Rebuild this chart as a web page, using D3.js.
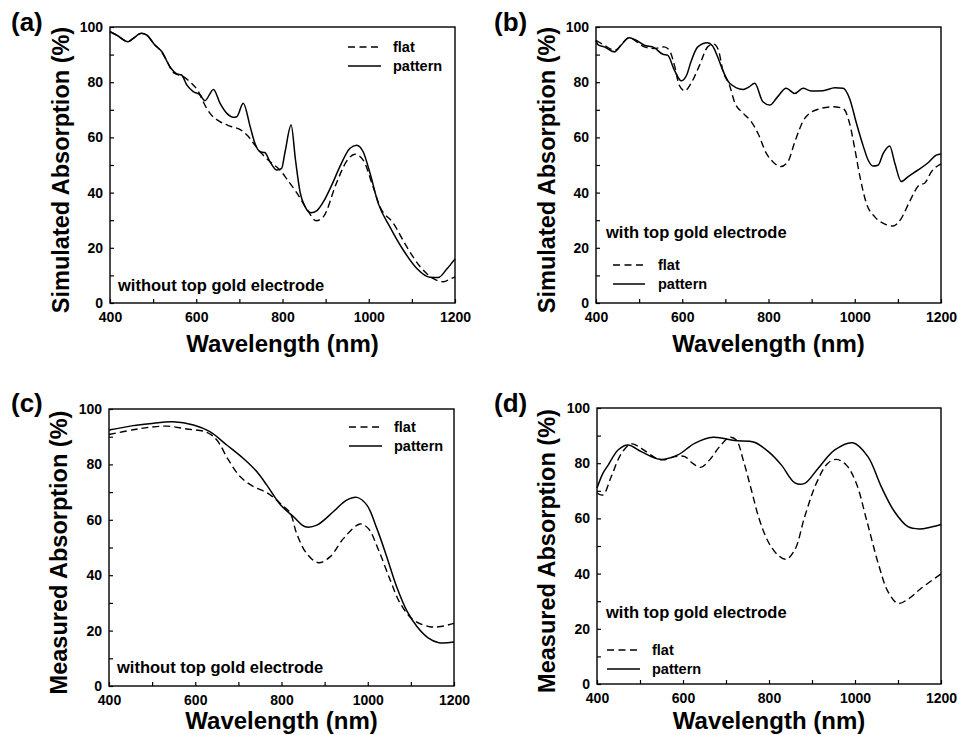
<!DOCTYPE html>
<html>
<head>
<meta charset="utf-8">
<script src="https://cdn.jsdelivr.net/npm/d3@7"></script>
<style>
  body { margin: 0; background: #fff; }
  text { font-family: "Liberation Sans", Arial, sans-serif; font-weight: bold; fill: #000; }
</style>
</head>
<body>
<div class="canvas"></div>
<script>
// tick values
const xTickVals = [400, 500, 600, 700, 800, 900, 1000, 1100, 1200];
const xLabelVals = [400, 600, 800, 1000, 1200];
const yTickVals = [0, 10, 20, 30, 40, 50, 60, 70, 80, 90, 100];
const yLabelVals = [0, 20, 40, 60, 80, 100];

// (a) simulated, without top gold electrode  [wavelength nm, absorption %]
const simFlatNoGold = [[400,98.3],[415,97.1],[442,94.7],[454,95.9],[473,97.7],[485,97.1],[504,93.5],[516,91.7],[531,88],[547,83.4],[570,82],[589,79.6],[605,76.6],[616,72.9],[632,68.7],[655,65.7],[678,64.1],[701,62.9],[721,60.3],[736,57.2],[755,53.6],[771,51.2],[794,48.2],[812,44.5],[834,39.7],[857,33.9],[878,29.8],[895,31.3],[925,43.4],[948,51.2],[968,53.9],[987,51.8],[1010,42.1],[1026,34.9],[1057,28.9],[1088,20.4],[1119,13.2],[1149,8.9],[1173,7.7],[1188,8.6],[1200,9.5]];
const simPatternNoGold = [[400,98.3],[415,97.1],[442,94.7],[454,95.9],[473,97.7],[485,97.1],[504,93.5],[520,91.1],[539,85.6],[555,83.0],[566,82.6],[578,79.0],[593,76.6],[609,75.4],[620,73.3],[640,77.4],[655,72.4],[671,68.7],[686,67.3],[694,67.5],[709,72.4],[725,63.9],[736,57.9],[748,54.8],[759,54.5],[771,51.2],[787,48.2],[798,48.8],[806,54.8],[820,64.5],[830,52],[841,40],[852,35],[866,32.7],[880,33.5],[895,36.7],[915,43],[933,49.4],[956,56],[972,57.2],[987,54.8],[1003,47],[1022,36.1],[1049,27.6],[1080,19.2],[1111,12.6],[1142,9.3],[1161,9.2],[1181,12.3],[1200,16]];

// (b) simulated, with top gold electrode
const simFlatGold = [[400,95.2],[419,93.4],[443,91.6],[477,96.1],[512,92.8],[535,92.2],[558,92.8],[570,91.6],[582,86.1],[593,78.9],[606,76.9],[620,79.5],[640,86.1],[659,92.8],[673,93.8],[684,91.6],[694,84.3],[710,78.7],[722,72.5],[741,68.8],[760,65.7],[776,61.3],[795,54.2],[810,51.2],[828,49.4],[845,51.2],[861,58.4],[884,66.9],[915,70.2],[950,71.1],[973,70.5],[988,65.1],[1000,56],[1012,45.8],[1027,36.1],[1046,31.3],[1070,28.6],[1089,27.9],[1108,30.7],[1127,36.7],[1150,42.8],[1162,43.4],[1178,47.6],[1200,50.4]];
const simPatternGold = [[400,95.2],[405,93.5],[419,92.8],[443,91.0],[458,93.4],[477,96.1],[493,95.2],[512,93.4],[535,92.5],[555,90.1],[566,89.8],[582,84.3],[598,80.5],[610,82.5],[620,87.3],[636,92.8],[658,94.3],[670,93.2],[682,89.2],[694,84.3],[710,79.6],[741,77.4],[755,78.3],[768,79.6],[787,72.9],[803,71.7],[820,74.5],[841,77.8],[861,75.9],[880,77.8],[899,76.8],[926,76.9],[954,78],[973,77.8],[988,74.1],[1004,65.1],[1019,57.2],[1031,51.8],[1042,49.6],[1054,49.9],[1066,54.2],[1081,56.9],[1093,50.6],[1108,44],[1124,45.8],[1147,48.2],[1170,50.8],[1189,53.6],[1200,54]];

// (c) measured, without top gold electrode
const measFlatNoGold = [[400,90.8],[456,92.5],[494,93.4],[534,93.8],[580,92.8],[627,91.6],[650,88.8],[677,81.6],[704,75.6],[735,72.0],[766,69.8],[789,67.1],[800,65.5],[820,62.5],[835,55.1],[858,47.9],[886,44.5],[913,46.7],[944,53.3],[982,58.5],[1001,56.9],[1025,49.1],[1052,38.3],[1075,29.9],[1106,23.8],[1144,21.4],[1170,21.5],[1200,22.6]];
const measPatternNoGold = [[400,92.4],[456,94.0],[494,94.7],[549,95.4],[596,94.2],[634,91.8],[673,87.0],[711,82.2],[742,77.5],[766,72.5],[797,65.5],[828,61.1],[855,57.5],[882,58.1],[920,62.9],[951,67.1],[975,68.1],[998,65.3],[1021,56.9],[1044,46.7],[1067,35.8],[1091,27.0],[1114,21.5],[1140,17.4],[1165,15.6],[1200,15.9]];

// (d) measured, with top gold electrode
const measFlatGold = [[400,69.2],[414,68.5],[433,75.1],[457,83.6],[480,87.0],[503,85.4],[534,82.1],[554,81.2],[581,82.4],[604,82.4],[622,80.0],[641,78.5],[662,81.2],[685,86.0],[709,89.4],[724,88.4],[740,81.2],[759,70.3],[778,59.4],[800,51.0],[821,46.7],[840,45.2],[860,48.6],[883,60.6],[910,72.7],[937,80.0],[957,81.4],[980,79.3],[1003,72.7],[1027,59.4],[1054,43.7],[1077,33.4],[1100,29.2],[1123,30.7],[1154,34.7],[1200,39.9]];
const measPatternGold = [[400,71.0],[414,76.4],[426,79.3],[449,84.8],[472,86.6],[503,84.2],[546,81.4],[588,83.0],[627,87.2],[670,89.4],[720,88.2],[766,87.6],[800,84.0],[829,79.3],[860,72.9],[883,72.7],[914,78.1],[953,84.8],[995,87.4],[1030,82.4],[1061,71.5],[1092,62.4],[1123,57.0],[1150,56.2],[1175,56.8],[1200,57.8]];

const svg = d3.select(".canvas").append("svg").attr("width", 958).attr("height", 735);

const panels = [
  { tag: "(a)", ytitle: "Simulated Absorption (%)", note: "without top gold electrode",
    flat: simFlatNoGold, pattern: simPatternNoGold, smooth: false,
    box: { l: 110, r: 455, t: 27, b: 303 }, tagPos: [11, 31], ytx: 69, xty: 352,
    notePos: [118, 291], leg: { x1: 348, x2: 381, y: 47, tx: 393 } },
  { tag: "(b)", ytitle: "Simulated Absorption (%)", note: "with top gold electrode",
    flat: simFlatGold, pattern: simPatternGold, smooth: false,
    box: { l: 596, r: 941, t: 27, b: 303 }, tagPos: [494, 31], ytx: 555, xty: 352,
    notePos: [606, 238], leg: { x1: 613, x2: 645, y: 265, tx: 658 } },
  { tag: "(c)", ytitle: "Measured Absorption (%)", note: "without top gold electrode",
    flat: measFlatNoGold, pattern: measPatternNoGold, smooth: true,
    box: { l: 109, r: 454, t: 409, b: 686 }, tagPos: [11, 412], ytx: 67, xty: 729,
    notePos: [117, 673], leg: { x1: 349, x2: 382, y: 427, tx: 394 } },
  { tag: "(d)", ytitle: "Measured Absorption (%)", note: "with top gold electrode",
    flat: measFlatGold, pattern: measPatternGold, smooth: true,
    box: { l: 597, r: 941, t: 408, b: 684 }, tagPos: [494, 412], ytx: 555, xty: 729,
    notePos: [606, 618], leg: { x1: 607, x2: 640, y: 650, tx: 652 } },
];

panels.forEach((p) => {
  const b = p.box;
  const x = d3.scaleLinear().domain([400, 1200]).range([b.l, b.r]);
  const y = d3.scaleLinear().domain([0, 100]).range([b.b, b.t]);
  const g = svg.append("g");

  // ticks (inward) + labels
  const xAxis = g.append("g").attr("transform", `translate(0,${b.b})`)
    .call(d3.axisBottom(x).tickValues(xTickVals).tickSizeInner(-4).tickSizeOuter(0).tickPadding(9)
      .tickFormat((d) => (xLabelVals.includes(d) ? d : "")));
  const yAxis = g.append("g").attr("transform", `translate(${b.l},0)`)
    .call(d3.axisLeft(y).tickValues(yTickVals).tickSizeInner(-4).tickSizeOuter(0).tickPadding(7)
      .tickFormat((d) => (yLabelVals.includes(d) ? d : "")));
  [xAxis, yAxis].forEach((a) => {
    a.select(".domain").remove();
    a.selectAll("line").attr("stroke", "#000").attr("stroke-width", 1.2);
    a.selectAll("text").attr("font-size", 14).attr("font-family", null);
  });

  // frame
  g.append("rect").attr("x", b.l).attr("y", b.t).attr("width", b.r - b.l).attr("height", b.b - b.t)
    .attr("fill", "none").attr("stroke", "#000").attr("stroke-width", 1.4);

  // curves
  const line = d3.line().x((d) => x(d[0])).y((d) => y(d[1]))
    .curve(p.smooth ? d3.curveCatmullRom.alpha(0.5) : d3.curveMonotoneX);
  g.append("path").datum(p.flat).attr("d", line).attr("fill", "none")
    .attr("stroke", "#000").attr("stroke-width", 1.4).attr("stroke-dasharray", "7,4");
  g.append("path").datum(p.pattern).attr("d", line).attr("fill", "none")
    .attr("stroke", "#000").attr("stroke-width", 1.5);

  // legend
  const L = p.leg;
  g.append("line").attr("x1", L.x1).attr("x2", L.x2).attr("y1", L.y).attr("y2", L.y)
    .attr("stroke", "#000").attr("stroke-width", 1.4).attr("stroke-dasharray", "7,4.5");
  g.append("line").attr("x1", L.x1).attr("x2", L.x2).attr("y1", L.y + 19).attr("y2", L.y + 19)
    .attr("stroke", "#000").attr("stroke-width", 1.5);
  g.append("text").attr("x", L.tx).attr("y", L.y + 5).attr("font-size", 14.5).text("flat");
  g.append("text").attr("x", L.tx).attr("y", L.y + 24).attr("font-size", 14.5).text("pattern");

  // note
  g.append("text").attr("x", p.notePos[0]).attr("y", p.notePos[1]).attr("font-size", 16.5).text(p.note);

  // axis titles
  g.append("text").attr("x", (b.l + b.r) / 2).attr("y", p.xty).attr("text-anchor", "middle")
    .attr("font-size", 24).text("Wavelength (nm)");
  g.append("text").attr("transform", `translate(${p.ytx},${(b.t + b.b) / 2 + 5}) rotate(-90)`)
    .attr("text-anchor", "middle").attr("font-size", 23.5).text(p.ytitle);

  // panel tag
  g.append("text").attr("x", p.tagPos[0]).attr("y", p.tagPos[1]).attr("font-size", 26).text(p.tag);
});
</script>
</body>
</html>
